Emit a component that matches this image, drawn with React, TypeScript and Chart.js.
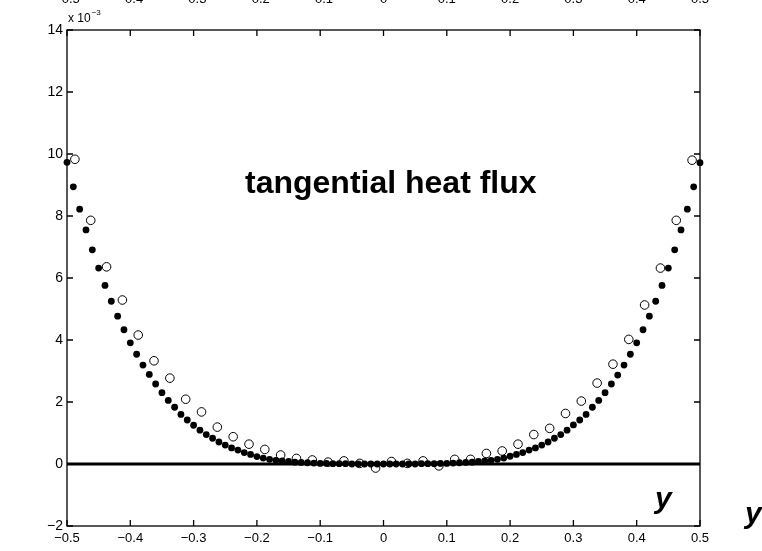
import React, { useEffect, useRef } from "react";
import { Chart, registerables } from "chart.js";

Chart.register(...registerables);

// filled dots: x positions and values (×10^-3)
const FILLED_X = [
  -0.5, -0.49, -0.48, -0.47, -0.46, -0.45, -0.44, -0.43, -0.42, -0.41,
  -0.4, -0.39, -0.38, -0.37, -0.36, -0.35, -0.34, -0.33, -0.32, -0.31,
  -0.3, -0.29, -0.28, -0.27, -0.26, -0.25, -0.24, -0.23, -0.22, -0.21,
  -0.2, -0.19, -0.18, -0.17, -0.16, -0.15, -0.14, -0.13, -0.12, -0.11,
  -0.1, -0.09, -0.08, -0.07, -0.06, -0.05, -0.04, -0.03, -0.02, -0.01,
  0,
  0.01, 0.02, 0.03, 0.04, 0.05, 0.06, 0.07, 0.08, 0.09, 0.1,
  0.11, 0.12, 0.13, 0.14, 0.15, 0.16, 0.17, 0.18, 0.19, 0.2,
  0.21, 0.22, 0.23, 0.24, 0.25, 0.26, 0.27, 0.28, 0.29, 0.3,
  0.31, 0.32, 0.33, 0.34, 0.35, 0.36, 0.37, 0.38, 0.39, 0.4,
  0.41, 0.42, 0.43, 0.44, 0.45, 0.46, 0.47, 0.48, 0.49, 0.5,
];
const FILLED_Y = [
  9.73, 8.94, 8.22, 7.55, 6.91, 6.32, 5.76, 5.25, 4.77, 4.33,
  3.91, 3.54, 3.19, 2.89, 2.58, 2.3, 2.05, 1.83, 1.6, 1.42,
  1.25, 1.09, 0.95, 0.83, 0.71, 0.61, 0.52, 0.45, 0.37, 0.31,
  0.24, 0.19, 0.15, 0.12, 0.1, 0.08, 0.06, 0.05, 0.04, 0.03,
  0.02, 0.02, 0.01, 0.01, 0.01, 0.0, 0.0, 0.0, 0.0, 0.0,
  0.0,
  0.0, 0.0, 0.0, 0.0, 0.0, 0.01, 0.01, 0.01, 0.02, 0.02,
  0.03, 0.04, 0.05, 0.06, 0.08, 0.1, 0.12, 0.15, 0.19, 0.25,
  0.31, 0.37, 0.45, 0.52, 0.61, 0.71, 0.83, 0.95, 1.09, 1.26,
  1.42, 1.6, 1.83, 2.05, 2.3, 2.58, 2.87, 3.19, 3.54, 3.91,
  4.33, 4.77, 5.25, 5.76, 6.32, 6.91, 7.55, 8.22, 8.94, 9.72,
];

// open circles
const OPEN_X = [
  -0.4875, -0.4625, -0.4375, -0.4125, -0.3875, -0.3625, -0.3375, -0.3125, -0.2875, -0.2625,
  -0.2375, -0.2125, -0.1875, -0.1625, -0.1375, -0.1125, -0.0875, -0.0625, -0.0375, -0.0125,
  0.0125, 0.0375, 0.0625, 0.0875, 0.1125, 0.1375, 0.1625, 0.1875, 0.2125, 0.2375,
  0.2625, 0.2875, 0.3125, 0.3375, 0.3625, 0.3875, 0.4125, 0.4375, 0.4625, 0.4875,
];
const OPEN_Y = [
  9.83, 7.86, 6.36, 5.29, 4.16, 3.33, 2.77, 2.09, 1.68, 1.19,
  0.88, 0.64, 0.47, 0.29, 0.18, 0.13, 0.06, 0.1, 0.02, -0.13,
  0.08, 0.02, 0.1, -0.06, 0.15, 0.15, 0.34, 0.42, 0.64, 0.95,
  1.15, 1.63, 2.03, 2.61, 3.22, 4.02, 5.13, 6.32, 7.86, 9.8,
];

// zero reference line
const ZERO_X = [-0.5, 0.5];
const ZERO_Y = [0, 0];

const X_TICKS = [-0.5, -0.4, -0.3, -0.2, -0.1, 0, 0.1, 0.2, 0.3, 0.4, 0.5];
const Y_TICKS = [-2, 0, 2, 4, 6, 8, 10, 12, 14];

const TITLE_TEXT = "tangential heat flux";
const AXIS_LABEL = "y";
const FONT = '"Liberation Sans", Arial, Helvetica, sans-serif';

const fmt = (v: number) => {
  const r = Math.round(v * 10) / 10;
  if (r === 0) return "0";
  return (r < 0 ? "\u2212" : "") + Math.abs(r).toFixed(1);
};
const fmtInt = (v: number) => {
  const r = Math.round(v);
  if (r === 0) return "0";
  return (r < 0 ? "\u2212" : "") + String(Math.abs(r));
};

const decorPlugin = {
  id: "decor",
  afterDraw(chart: any) {
    const { ctx, chartArea } = chart;
    const { left, right, top, bottom } = chartArea;
    const xs = chart.scales.x;
    const ys = chart.scales.y;
    ctx.save();
    ctx.strokeStyle = "#000";
    ctx.lineWidth = 1.3;
    ctx.strokeRect(left, top, right - left, bottom - top);
    const tl = 6;
    ctx.beginPath();
    X_TICKS.forEach((v) => {
      const px = xs.getPixelForValue(v);
      ctx.moveTo(px, bottom);
      ctx.lineTo(px, bottom - tl);
      ctx.moveTo(px, top);
      ctx.lineTo(px, top + tl);
    });
    Y_TICKS.forEach((v) => {
      const py = ys.getPixelForValue(v);
      ctx.moveTo(left, py);
      ctx.lineTo(left + tl, py);
      ctx.moveTo(right, py);
      ctx.lineTo(right - tl, py);
    });
    ctx.stroke();

    ctx.fillStyle = "#000";
    // cut-off tick labels of the panel above
    ctx.font = `13px ${FONT}`;
    ctx.textAlign = "center";
    ctx.textBaseline = "middle";
    X_TICKS.forEach((v) => {
      ctx.fillText(fmt(v), xs.getPixelForValue(v), -1);
    });

    // exponent label
    ctx.textAlign = "left";
    ctx.textBaseline = "alphabetic";
    ctx.font = `12px ${FONT}`;
    ctx.fillText("x 10", left + 1, top - 8);
    const w = ctx.measureText("x 10").width;
    ctx.font = `8px ${FONT}`;
    ctx.fillText("\u22123", left + 1 + w + 1, top - 15);

    // title text
    ctx.font = `bold 32px ${FONT}`;
    ctx.textAlign = "left";
    ctx.fillText(TITLE_TEXT, 245, 193);

    // axis labels "y"
    ctx.font = `italic bold 30px ${FONT}`;
    ctx.fillText(AXIS_LABEL, 655, 508);
    ctx.fillText(AXIS_LABEL, 745, 523);
    ctx.restore();
  },
};

export default function App() {
  const ref = useRef<HTMLCanvasElement | null>(null);
  useEffect(() => {
    if (!ref.current) return;
    const chart = new Chart(ref.current, {
      type: "scatter",
      data: {
        datasets: [
          {
            label: "open",
            data: OPEN_X.map((x, i) => ({ x, y: OPEN_Y[i] })),
            pointRadius: 4.3,
            pointBorderWidth: 1,
            pointBorderColor: "#000",
            pointBackgroundColor: "rgba(0,0,0,0)",
            showLine: false,
            order: 0,
            clip: false,
          } as any,
          {
            label: "filled",
            data: FILLED_X.map((x, i) => ({ x, y: FILLED_Y[i] })),
            pointRadius: 3.4,
            pointBorderWidth: 0,
            pointBackgroundColor: "#000",
            pointBorderColor: "#000",
            showLine: false,
            order: 1,
            clip: false,
          } as any,
          {
            label: "zero",
            type: "line",
            data: ZERO_X.map((x, i) => ({ x, y: ZERO_Y[i] })),
            borderColor: "#000",
            borderWidth: 3,
            pointRadius: 0,
            showLine: true,
            order: 2,
          } as any,
        ],
      },
      options: {
        animation: false,
        responsive: false,
        devicePixelRatio: 1,
        layout: { padding: { top: 30, right: 62, left: 0, bottom: 0 } },
        plugins: { legend: { display: false }, tooltip: { enabled: false } },
        scales: {
          x: {
            type: "linear",
            min: -0.5,
            max: 0.5,
            afterBuildTicks: (s: any) => {
              s.ticks = X_TICKS.map((v) => ({ value: v }));
            },
            afterFit: (s: any) => {
              s.height = 25;
            },
            grid: { display: false, drawTicks: false },
            border: { display: false },
            ticks: {
              padding: 5,
              color: "#000",
              font: { family: FONT, size: 13 },
              callback: (v: any) => fmt(Number(v)),
              maxRotation: 0,
              autoSkip: false,
            },
          },
          y: {
            type: "linear",
            min: -2,
            max: 14,
            afterBuildTicks: (s: any) => {
              s.ticks = Y_TICKS.map((v) => ({ value: v }));
            },
            afterFit: (s: any) => {
              s.width = 67;
            },
            grid: { display: false, drawTicks: false },
            border: { display: false },
            ticks: {
              padding: 4,
              color: "#000",
              font: { family: FONT, size: 14 },
              callback: (v: any) => fmtInt(Number(v)),
              autoSkip: false,
            },
          },
        },
      },
      plugins: [decorPlugin],
    });
    return () => chart.destroy();
  }, []);
  return (
    <div style={{ position: "absolute", left: 0, top: 0, width: 762, height: 551, background: "#fff" }}>
      <canvas ref={ref} width={762} height={551} style={{ display: "block" }} />
    </div>
  );
}
